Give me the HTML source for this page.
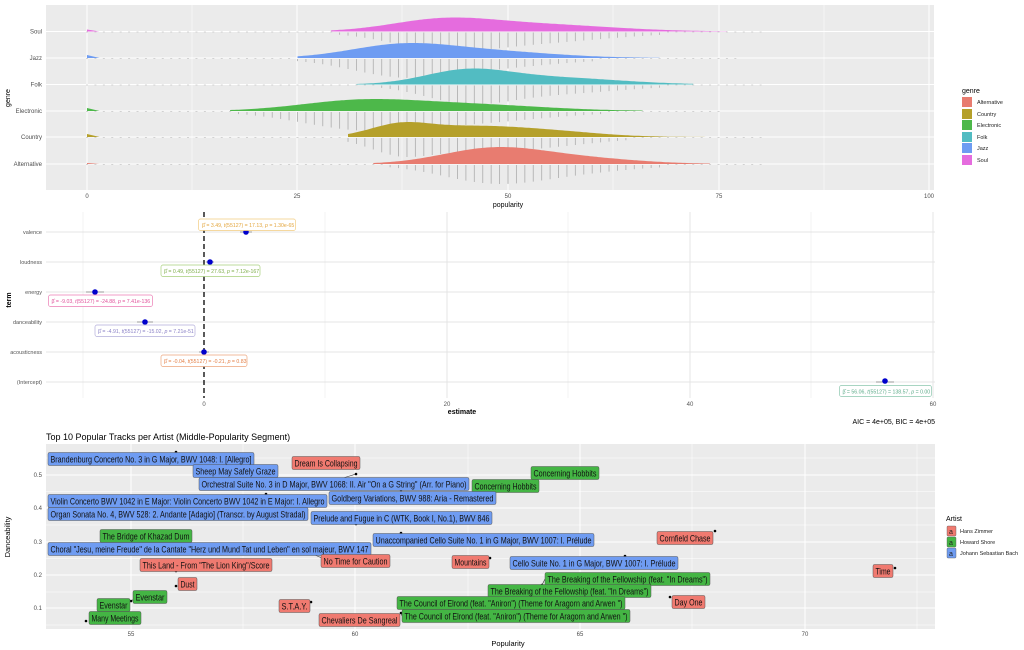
<!DOCTYPE html>
<html><head><meta charset="utf-8"><style>
html,body{margin:0;padding:0;background:#fff;}
svg{display:block;font-family:"Liberation Sans",sans-serif;}
</style></head><body>
<svg id="s" width="1024" height="650" viewBox="0 0 1024 650" xmlns="http://www.w3.org/2000/svg">
<rect x="46" y="5" width="888" height="185" fill="#EBEBEB"/>
<g stroke="#fff" stroke-width="0.5">
<line x1="192" y1="5" x2="192" y2="190"/><line x1="402" y1="5" x2="402" y2="190"/><line x1="613" y1="5" x2="613" y2="190"/><line x1="824" y1="5" x2="824" y2="190"/>
</g>
<g stroke="#fff" stroke-width="1">
<line x1="87" y1="5" x2="87" y2="190"/><line x1="297" y1="5" x2="297" y2="190"/><line x1="508" y1="5" x2="508" y2="190"/><line x1="719" y1="5" x2="719" y2="190"/><line x1="929" y1="5" x2="929" y2="190"/>
<line x1="46" y1="31.5" x2="934" y2="31.5"/><line x1="46" y1="58" x2="934" y2="58"/><line x1="46" y1="84.5" x2="934" y2="84.5"/><line x1="46" y1="111" x2="934" y2="111"/><line x1="46" y1="137" x2="934" y2="137"/><line x1="46" y1="164" x2="934" y2="164"/>
</g>
<g id="ridges"></g>
<g font-size="6" fill="#4d4d4d" text-anchor="end">
<text x="42" y="33.5">Soul</text><text x="42" y="60">Jazz</text><text x="42" y="86.5">Folk</text><text x="42" y="113">Electronic</text><text x="42" y="139">Country</text><text x="42" y="166">Alternative</text>
</g>
<g font-size="6" fill="#4d4d4d" text-anchor="middle">
<text x="87" y="198">0</text><text x="297" y="198">25</text><text x="508" y="198">50</text><text x="719" y="198">75</text><text x="929" y="198">100</text>
</g>
<text x="508" y="207" font-size="7" text-anchor="middle">popularity</text>
<text transform="translate(10,98) rotate(-90)" font-size="7" text-anchor="middle">genre</text>
<text x="962" y="93" font-size="7">genre</text>
<g font-size="5.5" fill="#222">
<rect x="962" y="97" width="10" height="10" fill="#E87C70"/><text x="977" y="104">Alternative</text>
<rect x="962" y="109" width="10" height="10" fill="#B5A02A"/><text x="977" y="116">Country</text>
<rect x="962" y="120" width="10" height="10" fill="#4DB84A"/><text x="977" y="127">Electronic</text>
<rect x="962" y="132" width="10" height="10" fill="#52BCC2"/><text x="977" y="139">Folk</text>
<rect x="962" y="143" width="10" height="10" fill="#6E9CF2"/><text x="977" y="150">Jazz</text>
<rect x="962" y="155" width="10" height="10" fill="#E56CDE"/><text x="977" y="162">Soul</text>
</g>

<g stroke="#EBEBEB" stroke-width="0.6">
<line x1="83" y1="212" x2="83" y2="398"/><line x1="325" y1="212" x2="325" y2="398"/><line x1="568" y1="212" x2="568" y2="398"/><line x1="811" y1="212" x2="811" y2="398"/>
</g>
<g stroke="#E4E4E4" stroke-width="0.9">
<line x1="447" y1="212" x2="447" y2="398"/><line x1="690" y1="212" x2="690" y2="398"/><line x1="933" y1="212" x2="933" y2="398"/>
<line x1="46" y1="232" x2="935" y2="232"/><line x1="46" y1="262" x2="935" y2="262"/><line x1="46" y1="292" x2="935" y2="292"/><line x1="46" y1="322" x2="935" y2="322"/><line x1="46" y1="352" x2="935" y2="352"/><line x1="46" y1="382" x2="935" y2="382"/>
</g>
<line x1="204" y1="212" x2="204" y2="398" stroke="#000" stroke-width="1.3" stroke-dasharray="5,3"/>
<g stroke="#999" stroke-width="1">
<line x1="240" y1="232" x2="252" y2="232"/><line x1="206" y1="262" x2="214" y2="262"/><line x1="86" y1="292" x2="104" y2="292"/><line x1="137" y1="322" x2="153" y2="322"/><line x1="199" y1="352" x2="209" y2="352"/><line x1="876" y1="382" x2="894" y2="382"/>
</g>
<g fill="#0000CC">
<circle cx="246" cy="232" r="2.8"/><circle cx="210" cy="262" r="2.8"/><circle cx="95" cy="292" r="2.8"/><circle cx="145" cy="322" r="2.8"/><circle cx="204" cy="352" r="2.8"/><circle cx="885" cy="381" r="2.8"/>
</g>
<g font-size="5.2" fill="none" stroke-width="0.7">
<rect x="198.5" y="219" width="97" height="11.5" rx="2" fill="#fff" stroke="#F2CC80"/>
<text x="202" y="227" fill="#E3A53C" stroke="none">β̂ = 3.49, <tspan font-style="italic">t</tspan>(55127) = 17.13, <tspan font-style="italic">p</tspan> = 1.30e-65</text>
<rect x="161" y="265" width="99" height="11.5" rx="2" fill="#fff" stroke="#A8D07C"/>
<text x="164" y="273" fill="#7FAE4B" stroke="none">β̂ = 0.49, <tspan font-style="italic">t</tspan>(55127) = 27.63, <tspan font-style="italic">p</tspan> = 7.12e-167</text>
<rect x="48.5" y="295" width="104" height="11.5" rx="2" fill="#fff" stroke="#EB7DB5"/>
<text x="51.5" y="303" fill="#E0509A" stroke="none">β̂ = -9.03, <tspan font-style="italic">t</tspan>(55127) = -24.88, <tspan font-style="italic">p</tspan> = 7.41e-136</text>
<rect x="95" y="325" width="100" height="11.5" rx="2" fill="#fff" stroke="#B3AEDA"/>
<text x="98" y="333" fill="#8A80C6" stroke="none">β̂ = -4.91, <tspan font-style="italic">t</tspan>(55127) = -15.02, <tspan font-style="italic">p</tspan> = 7.21e-51</text>
<rect x="161" y="355" width="86" height="11.5" rx="2" fill="#fff" stroke="#EDA57C"/>
<text x="164" y="363" fill="#E37F46" stroke="none">β̂ = -0.04, <tspan font-style="italic">t</tspan>(55127) = -0.21, <tspan font-style="italic">p</tspan> = 0.83</text>
<rect x="839.5" y="385.5" width="92" height="11" rx="2" fill="#fff" stroke="#8CC7AE"/>
<text x="842.5" y="393.5" fill="#5BAA88" stroke="none">β̂ = 56.06, <tspan font-style="italic">t</tspan>(55127) = 138.57, <tspan font-style="italic">p</tspan> = 0.00</text>
</g>
<g font-size="5.5" fill="#555" text-anchor="end">
<text x="42" y="234">valence</text><text x="42" y="264">loudness</text><text x="42" y="294">energy</text><text x="42" y="324">danceability</text><text x="42" y="354">acousticness</text><text x="42" y="384">(Intercept)</text>
</g>
<g font-size="6" fill="#555" text-anchor="middle">
<text x="204" y="406">0</text><text x="447" y="406">20</text><text x="690" y="406">40</text><text x="933" y="406">60</text>
</g>
<text x="462" y="414" font-size="7" font-weight="bold" text-anchor="middle">estimate</text>
<text transform="translate(11,300) rotate(-90)" font-size="7" font-weight="bold" text-anchor="middle">term</text>
<text x="935" y="424" font-size="7" text-anchor="end">AIC = 4e+05, BIC = 4e+05</text>

<text x="46" y="440" font-size="9">Top 10 Popular Tracks per Artist (Middle-Popularity Segment)</text>
<rect x="46" y="444" width="889" height="185" fill="#EBEBEB"/>
<g stroke="#fff" stroke-width="0.5">
<line x1="243" y1="444" x2="243" y2="629"/><line x1="468" y1="444" x2="468" y2="629"/><line x1="692" y1="444" x2="692" y2="629"/><line x1="917" y1="444" x2="917" y2="629"/>
<line x1="46" y1="458" x2="935" y2="458"/><line x1="46" y1="491.5" x2="935" y2="491.5"/><line x1="46" y1="525" x2="935" y2="525"/><line x1="46" y1="558.5" x2="935" y2="558.5"/><line x1="46" y1="592" x2="935" y2="592"/><line x1="46" y1="625" x2="935" y2="625"/>
</g>
<g stroke="#fff" stroke-width="1">
<line x1="131" y1="444" x2="131" y2="629"/><line x1="355" y1="444" x2="355" y2="629"/><line x1="580" y1="444" x2="580" y2="629"/><line x1="805" y1="444" x2="805" y2="629"/>
<line x1="46" y1="475" x2="935" y2="475"/><line x1="46" y1="508" x2="935" y2="508"/><line x1="46" y1="542" x2="935" y2="542"/><line x1="46" y1="575" x2="935" y2="575"/><line x1="46" y1="608" x2="935" y2="608"/>
</g>
<g font-size="6" fill="#4d4d4d" text-anchor="end">
<text x="42" y="477">0.5</text><text x="42" y="510">0.4</text><text x="42" y="544">0.3</text><text x="42" y="577">0.2</text><text x="42" y="610">0.1</text>
</g>
<g font-size="6" fill="#4d4d4d" text-anchor="middle">
<text x="131" y="636">55</text><text x="355" y="636">60</text><text x="580" y="636">65</text><text x="805" y="636">70</text>
</g>
<text x="508" y="646" font-size="7.5" text-anchor="middle">Popularity</text>
<text transform="translate(10,537) rotate(-90)" font-size="7.5" text-anchor="middle">Danceability</text>
<g stroke="#333" stroke-width="0.6">
<line x1="356" y1="474" x2="340" y2="479"/><line x1="310" y1="553" x2="322" y2="558"/><line x1="545" y1="579" x2="542" y2="585"/><line x1="401" y1="613" x2="402" y2="616"/><line x1="535" y1="478" x2="535" y2="480"/><line x1="131" y1="601" x2="134" y2="599"/>
</g>
<g id="pts" fill="#000"></g>
<g id="labs" font-size="9.3"></g>
<text x="946" y="521" font-size="7">Artist</text>
<g font-size="5.5" fill="#222">
<rect x="947" y="526" width="9" height="10" rx="1" fill="#F07A70" stroke="#555" stroke-width="0.4"/><text x="949" y="534" font-size="7">a</text><text x="960" y="533">Hans Zimmer</text>
<rect x="947" y="537" width="9" height="10" rx="1" fill="#44B544" stroke="#555" stroke-width="0.4"/><text x="949" y="545" font-size="7">a</text><text x="960" y="544">Howard Shore</text>
<rect x="947" y="548" width="9" height="10" rx="1" fill="#6F9CF2" stroke="#555" stroke-width="0.4"/><text x="949" y="556" font-size="7">a</text><text x="960" y="555">Johann Sebastian Bach</text>
</g>
</svg>
<script>
var NS="http://www.w3.org/2000/svg";
function el(t,a,p){var e=document.createElementNS(NS,t);for(var k in a)e.setAttribute(k,a[k]);p.appendChild(e);return e;}
var R=document.getElementById("ridges");
var rows=[
 {y:31.5,c:"#E56CDE",h:14,s:29,e:76,m:[[42,6,1],[53,9,0.7]],b:2},
 {y:58,c:"#6E9CF2",h:15,s:25,e:68,m:[[37,6,1],[47,8,0.6]],b:3},
 {y:84.5,c:"#52BCC2",h:16,s:32,e:72,m:[[45,5,1],[55,8,0.55]],b:0},
 {y:111,c:"#4DB84A",h:12,s:17,e:66,m:[[32,7,1],[45,9,0.7]],b:3},
 {y:137,c:"#B5A02A",h:15,s:31,e:76,m:[[37,3.5,1],[45,6,0.9],[55,6,0.5]],b:3},
 {y:164,c:"#E87C70",h:17,s:34,e:74,m:[[48,6,1],[58,7,0.4]],b:1}
];
function X(p){return 87+8.42*p;}
rows.forEach(function(r){
 function f(p){var v=0;r.m.forEach(function(c){v+=c[2]*Math.exp(-0.5*Math.pow((p-c[0])/c[1],2));});return v;}
 var mx=0;for(var p=0;p<100;p+=0.25)mx=Math.max(mx,f(p));
 var d="M"+X(r.s)+","+r.y;
 for(var p=r.s;p<=r.e;p+=0.25){d+=" L"+X(p).toFixed(1)+","+(r.y-r.h*f(p)/mx).toFixed(1);}
 d+=" L"+X(r.e)+","+r.y+"Z";
 el("path",{d:d,fill:r.c},R);
 if(r.b){el("path",{d:"M87,"+r.y+" L87,"+(r.y-r.b)+" L"+X(1.5)+","+r.y+"Z",fill:r.c},R);}
 for(var i=0;i<=80;i++){var v=f(i)/mx;var len=v*19;
  if(i>=r.s&&i<=r.e&&len>2){el("line",{x1:X(i),y1:r.y+1,x2:X(i),y2:r.y+1+len,stroke:"#b3b3b3","stroke-width":0.9},R);}
  else if(i<r.e+10){el("line",{x1:X(i)-1,y1:r.y+0.5,x2:X(i)+1,y2:r.y+0.5,stroke:"#c8c8c8","stroke-width":0.8},R);}
 }
});
var P=document.getElementById("pts");
[[176,452],[356,468],[266,477],[356,474],[535,478],[266,494],[401,490],[356,524],[176,542],[401,533],[715,531],[310,553],[490,558],[625,556],[895,568],[176,571],[176,586],[542,585],[670,597],[131,601],[311,602],[401,613],[86,621]].forEach(function(q){el("circle",{cx:q[0],cy:q[1],r:1.3},P);});
var C={r:"#F07A70",g:"#44B544",b:"#6F9CF2"};
var L=[
["Brandenburg Concerto No. 3 in G Major, BWV 1048: I. [Allegro]",48,459,254,"b"],
["Dream Is Collapsing",292,463,360,"r"],
["Sheep May Safely Graze",193,471,278,"b"],
["Orchestral Suite No. 3 in D Major, BWV 1068: II. Air \"On a G String\" (Arr. for Piano)",199,484,469,"b"],
["Concerning Hobbits",472,486,539,"g"],
["Concerning Hobbits",531,473,599,"g"],
["Violin Concerto BWV 1042 in E Major: Violin Concerto BWV 1042 in E Major: I. Allegro",48,501,327,"b"],
["Goldberg Variations, BWV 988: Aria - Remastered",329,498,496,"b"],
["Organ Sonata No. 4, BWV 528: 2. Andante [Adagio] (Transcr. by August Stradal)",48,514,308,"b"],
["Prelude and Fugue in C (WTK, Book I, No.1), BWV 846",311,518,492,"b"],
["The Bridge of Khazad Dum",100,536,192,"g"],
["Unaccompanied Cello Suite No. 1 in G Major, BWV 1007: I. Prélude",373,540,594,"b"],
["Choral \"Jesu, meine Freude\" de la Cantate \"Herz und Mund Tat und Leben\" en sol majeur, BWV 147",48,549,371,"b"],
["Cornfield Chase",657,538,713,"r"],
["No Time for Caution",321,561,390,"r"],
["Mountains",452,562,489,"r"],
["Cello Suite No. 1 in G Major, BWV 1007: I. Prélude",510,563,678,"b"],
["This Land - From \"The Lion King\"/Score",140,565,272,"r"],
["Time",873,571,893,"r"],
["Dust",178,584,197,"r"],
["The Breaking of the Fellowship (feat. \"In Dreams\")",545,579,710,"g"],
["The Breaking of the Fellowship (feat. \"In Dreams\")",488,591,651,"g"],
["Evenstar",133,597,167,"g"],
["Evenstar",97,605,130,"g"],
["S.T.A.Y.",279,606,310,"r"],
["The Council of Elrond (feat. \"Aniron\") (Theme for Aragorn and Arwen \")",397,603,625,"g"],
["Day One",672,602,705,"r"],
["Many Meetings",89,618,141,"g"],
["Chevaliers De Sangreal",319,620,400,"r"],
["The Council of Elrond (feat. \"Aniron\") (Theme for Aragorn and Arwen \")",402,616,630,"g"]
];
var G=document.getElementById("labs");
L.forEach(function(l){var w=l[3]-l[1];
 el("rect",{x:l[1],y:l[2]-6.5,width:w,height:13,rx:1.5,fill:C[l[4]],stroke:"#555","stroke-width":0.5},G);
 var t=el("text",{x:l[1]+2.5,y:l[2]+3.4,textLength:w-5,lengthAdjust:"spacingAndGlyphs",fill:"#111"},G);t.textContent=l[0];
});
</script>
</body></html>
